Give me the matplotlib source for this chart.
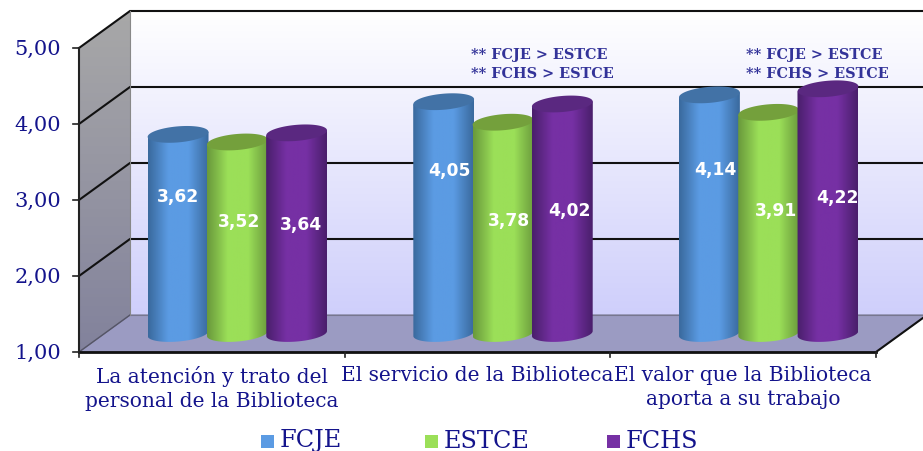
import matplotlib
matplotlib.use('Agg')
import matplotlib.pyplot as plt
import numpy as np
from matplotlib.patches import Polygon
from matplotlib.colors import LinearSegmentedColormap

categories = ['La atención y trato del\npersonal de la Biblioteca',
              'El servicio de la Biblioteca',
              'El valor que la Biblioteca\naporta a su trabajo']
series_names = ['FCJE', 'ESTCE', 'FCHS']
fcje = [3.62, 4.05, 4.14]
estce = [3.52, 3.78, 3.91]
fchs = [3.64, 4.02, 4.22]
yticks = [1, 2, 3, 4, 5]
notes = ['', '** FCJE > ESTCE\n** FCHS > ESTCE', '** FCJE > ESTCE\n** FCHS > ESTCE']

W, H = 923, 451
X0, CATW = 79, 265.67      # front plane, px
Y0, VALH = 352, 76         # value 1.00, px per unit
DX, DY = 51, 37            # depth of the 3d box
NAVY = '#14148c'

# (mid, edge, top) colours of the cylinders
shades = [('#5b9be3', '#3a6a9e', '#4272a6'),
          ('#9bdf58', '#6a9a3c', '#74a03c'),
          ('#7630a4', '#4a1f6c', '#5a2880')]


def xd(px):
    return (px - X0) / CATW


def yd(py):
    return 1 + (Y0 - py) / VALH


fig = plt.figure(figsize=(W / 100, H / 100), dpi=100)
ax = fig.add_axes([0, 0, 1, 1])
ax.set_xlim(xd(0), xd(W))
ax.set_ylim(yd(H), yd(0))
ax.axis('off')

dx = DX / CATW
dy = DY / VALH
xright = xd(W + 5)

# back wall
wall = LinearSegmentedColormap.from_list('wall', ['#ffffff', '#cfcffb'])
im = ax.imshow(np.linspace(0, 1, 200).reshape(-1, 1), cmap=wall, aspect='auto', zorder=1,
               extent=[dx, xright, 1 + dy, 5 + dy], origin='upper')

# left wall
side = LinearSegmentedColormap.from_list('side', ['#a8a8a8', '#82829c'])
im = ax.imshow(np.linspace(0, 1, 200).reshape(-1, 1), cmap=side, aspect='auto', zorder=2,
               extent=[0, dx, 1, 5 + dy], origin='upper')
clip = Polygon([(0, 1), (dx, 1 + dy), (dx, 5 + dy), (0, 5)], transform=ax.transData)
im.set_clip_path(clip)

# floor
ax.add_patch(Polygon([(0, 1), (dx, 1 + dy), (xright, 1 + dy), (3 + dx, 1 + dy), (3, 1)],
                     closed=True, facecolor='#9b9bc2', edgecolor='#777790', lw=0.8, zorder=3))
ax.plot([dx, xright], [1 + dy, 1 + dy], color='#77778f', lw=0.8, zorder=3)

# grid
for v in yticks[1:]:
    ax.plot([0, dx, xright], [v, v + dy, v + dy], color='#111111', lw=1.5, zorder=4,
            solid_joinstyle='miter')
ax.plot([0, dx], [1, 1 + dy], color='#555566', lw=1, zorder=4)
ax.plot([dx, dx], [1 + dy, 5 + dy], color='#888888', lw=0.8, zorder=4)
ax.plot([3, 3 + dx], [1, 1 + dy], color='#111111', lw=1.5, zorder=4)

# axes lines and ticks
ax.plot([0, 0], [1, 5], color='#222222', lw=1.5, zorder=9)
ax.plot([0, 3], [1, 1], color='#111111', lw=2, zorder=9)
for v in yticks:
    ax.plot([xd(X0 - 6), 0], [v, v], color='#222222', lw=1.2, zorder=9)
    ax.text(xd(X0 - 18), v - 0.02, f'{v:.2f}'.replace('.', ','), color=NAVY, fontsize=15,
            family='DejaVu Serif', ha='right', va='center')
for i in range(4):
    ax.plot([i, i], [1, yd(Y0 + 5)], color='#222222', lw=1.2, zorder=9)

# cylinders
RX, RY, TILT = 30.5, 8, np.radians(5)
STEP = 59.3 / CATW
t = np.linspace(0, 2 * np.pi, 80)
ex = (RX * np.cos(t) * np.cos(TILT) - RY * np.sin(t) * np.sin(TILT)) / CATW
ey = (RX * np.cos(t) * np.sin(TILT) + RY * np.sin(t) * np.cos(TILT)) / VALH

for s, vals in enumerate([fcje, estce, fchs]):
    mid, edge, top = shades[s]
    cmap = LinearSegmentedColormap.from_list('c%d' % s, [edge, mid, mid, edge])
    for c, v in enumerate(vals):
        cx = c + 0.5 + dx / 2 + (s - 1) * STEP
        base = 1 + dy / 2
        yv = v + dy / 2
        z = 10 + s * 2 + c * 10
        # body outline: bottom half of lower ellipse, then up to the top ellipse
        low = np.where(np.sin(t) < 0)[0]
        bx = cx + ex[low]
        by = base + ey[low]
        order = np.argsort(bx)
        verts = list(zip(bx[order], by[order]))
        verts += [(cx + RX / CATW, yv + RX * np.sin(TILT) / VALH), (cx - RX / CATW, yv - RX * np.sin(TILT) / VALH)]
        poly = Polygon(verts, closed=True, transform=ax.transData)
        img = ax.imshow(np.linspace(0, 1, 64).reshape(1, -1), cmap=cmap, aspect='auto', zorder=z,
                        extent=[cx - RX / CATW, cx + RX / CATW, 1, yv + 0.2])
        img.set_clip_path(poly)
        ax.fill(cx + ex, yv + ey, color=top, zorder=z + 1, lw=0)

# value labels
label_px = [[(178, 197), (449, 171), (715, 170)],
            [(239, 222), (509, 221), (776, 211)],
            [(301, 225), (569, 211), (837, 198)]]
for s, vals in enumerate([fcje, estce, fchs]):
    for c, v in enumerate(vals):
        px, py = label_px[s][c]
        ax.text(xd(px), yd(py), f'{v:.2f}'.replace('.', ','), color='white', fontsize=12.3,
                fontweight='bold', ha='center', va='center', zorder=60)

# category labels
cat_px = [212, 477, 743]
for c, name in enumerate(categories):
    ax.text(xd(cat_px[c]), yd(366), name, color=NAVY, fontsize=14.5, family='DejaVu Serif',
            ha='center', va='top', linespacing=1.32, zorder=60)

# notes
note_px = [None, 471, 746]
for c, n in enumerate(notes):
    if n:
        first, second = n.split('\n')
        ax.text(xd(note_px[c]), yd(55), first, color='#333399', fontsize=10.4,
                family='DejaVu Serif', fontweight='bold', ha='left', va='center', zorder=60)
        ax.text(xd(note_px[c]), yd(74), second, color='#333399', fontsize=10.4,
                family='DejaVu Serif', fontweight='bold', ha='left', va='center', zorder=60)

# legend
leg_px = [261, 425, 607]
for s, name in enumerate(series_names):
    l = leg_px[s]
    ax.add_patch(Polygon([(xd(l), yd(435)), (xd(l + 13), yd(435)), (xd(l + 13), yd(448)), (xd(l), yd(448))],
                         closed=True, facecolor=shades[s][0], edgecolor='none', zorder=60))
    ax.text(xd(l + 19), yd(441), name, color=NAVY, fontsize=17.3, family='DejaVu Serif',
            ha='left', va='center', zorder=60)

ax.set_xlim(xd(0), xd(W))
ax.set_ylim(yd(H), yd(0))
fig.savefig('out.png', dpi=100)
